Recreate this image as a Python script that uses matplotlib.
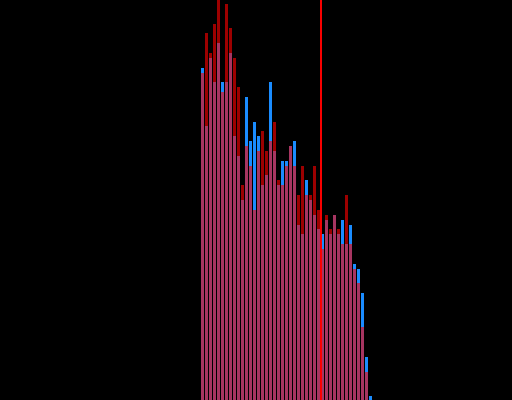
import matplotlib
matplotlib.use("Agg")
import matplotlib.pyplot as plt

# bin index and counts
bins = list(range(43))
blue_counts = [68, 56, 70, 65, 73, 65, 65, 71, 54, 50,
               41, 62, 53, 57, 54, 44, 46, 65, 51, 44,
               49, 49, 52, 53, 36, 34, 45, 41, 38, 35,
               34, 37, 34, 38, 34, 37, 32, 36, 28, 27,
               22, 9, 1]
red_counts = [67, 75, 71, 77, 84, 63, 81, 76, 70, 64,
              44, 52, 48, 39, 51, 55, 51, 53, 57, 45,
              44, 48, 52, 48, 42, 48, 42, 42, 48, 39,
              31, 38, 35, 38, 35, 32, 42, 32, 27, 24,
              15, 6, 0]
mean_line = 29.95

fig = plt.figure(figsize=(5.12, 4.0), dpi=100, facecolor="black")
ax = fig.add_axes([0, 0, 1, 1])
ax.set_facecolor("black")

ax.bar(bins, blue_counts, width=0.75, align="edge", color="#1a8cff", linewidth=0)
ax.bar(bins, red_counts, width=0.75, align="edge", color="#ff0000", alpha=0.62, linewidth=0)
ax.axvline(mean_line, color="#ff0000", linewidth=1.4)

ax.set_xlim(-50.25, 77.75)
ax.set_ylim(0.2, 81.8)
ax.axis("off")

fig.savefig("out.png", dpi=100, facecolor="black")
